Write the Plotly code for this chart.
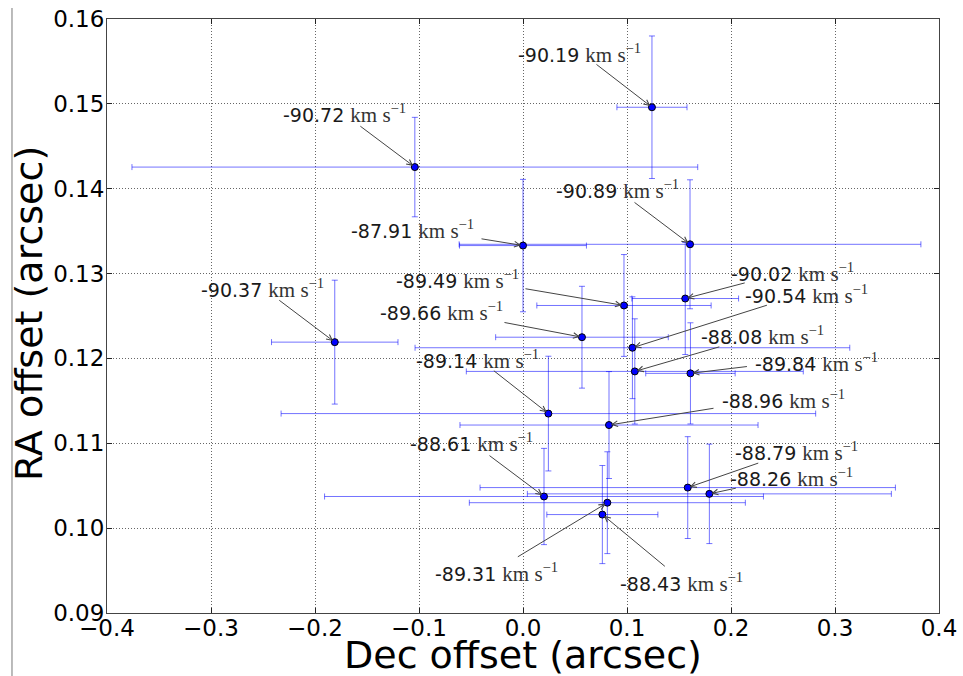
import plotly.graph_objects as go

# ---- data ----
velocities = ["-90.19", "-90.72", "-87.91", "-90.89", "-90.02", "-90.54", "-89.49", "-89.66", "-88.08",
              "-89.84", "-89.14", "-88.96", "-88.61", "-88.79", "-88.26", "-89.31", "-88.43", "-90.37"]
dec = [0.124, -0.104, 0.000, 0.1606, 0.156, 0.1052, 0.0971, 0.0567, 0.1075,
       0.161, 0.0244, 0.0827, 0.0202, 0.1584, 0.1792, 0.0811, 0.0763, -0.181]
ra = [0.1496, 0.14255, 0.1333, 0.13345, 0.12706, 0.12126, 0.12624, 0.1225, 0.11847,
      0.11824, 0.1135, 0.11215, 0.10373, 0.10478, 0.10404, 0.1030, 0.1016, 0.12192]
dec_err = [0.0337, 0.272, 0.061, 0.222, 0.0513, 0.209, 0.0838, 0.083, 0.162,
           0.043, 0.257, 0.1433, 0.211, 0.1997, 0.175, 0.1327, 0.0534, 0.0608]
ra_err = [0.0084, 0.00586, 0.0078, 0.0076, 0.0066, 0.0060, 0.0060, 0.0060, 0.0062,
          0.00596, 0.00676, 0.0063, 0.00567, 0.0060, 0.00586, 0.0060, 0.00578, 0.0073]

x_ticks = [-0.4, -0.3, -0.2, -0.1, 0.0, 0.1, 0.2, 0.3, 0.4]
x_ticktext = ["\u22120.4", "\u22120.3", "\u22120.2", "\u22120.1", "0.0", "0.1", "0.2", "0.3", "0.4"]
y_ticks = [0.09, 0.10, 0.11, 0.12, 0.13, 0.14, 0.15, 0.16]

# label placement (pixel offsets from point): text left edge / centre, arrow tail
text_off = [(-136, -54), (-134, -54), (-174, -16), (-136, -55), (44, -26), (111, -53), (-230, -26),
            (-204, -26), (64, -36), (63, -11), (-134, -54), (111, -26), (-136, -54), (45, -36),
            (19, -16), (-174, 70), (16, 68), (-136, -54)]
tail_off = [(-57, -44), (-56, -42), (-43, -7), (-57, -43), (61, -16), (136, -43), (-100, -17),
            (-79, -15), (86, -25), (58, -7), (-56, -44), (106, -17), (-56, -42), (72, -25),
            (28, -6), (-91, 55), (64, 53), (-57, -43)]

fig = go.Figure()
fig.add_trace(go.Scatter(
    x=dec, y=ra, mode="markers",
    marker=dict(color="#0000ff", size=7, line=dict(color="black", width=1)),
    error_x=dict(type="data", array=dec_err, color="rgba(0,0,255,0.55)", thickness=1, width=3),
    error_y=dict(type="data", array=ra_err, color="rgba(0,0,255,0.55)", thickness=1, width=3),
    showlegend=False, hoverinfo="skip",
))

annotations = []
for v, x, y, (tx, ty), (ax, ay) in zip(velocities, dec, ra, text_off, tail_off):
    annotations.append(dict(
        x=x, y=y, xref="x", yref="y", showarrow=False,
        text=(v + " <span style='font-family:Liberation Serif;font-size:21px;color:#333'>km s<sup>\u22121</sup></span>"),
        xanchor="left", yanchor="middle", xshift=tx, yshift=-ty,
        font=dict(family="DejaVu Sans", size=19, color="#1a1a1a"),
    ))
    annotations.append(dict(
        x=x, y=y, xref="x", yref="y", text="", showarrow=True,
        ax=ax, ay=ay, axref="pixel", ayref="pixel",
        arrowhead=5, arrowsize=1.1, arrowwidth=1, arrowcolor="#444", standoff=2,
    ))

annotations.append(dict(
    text="Dec offset (arcsec)", xref="paper", yref="paper", x=0.5, y=0,
    xanchor="center", yanchor="middle", yshift=-42, showarrow=False,
    font=dict(family="DejaVu Sans", size=38, color="black"),
))
annotations.append(dict(
    text="RA offset (arcsec)", xref="paper", yref="paper", x=0, y=0.5,
    xanchor="center", yanchor="middle", xshift=-78, yshift=2, textangle=-90, showarrow=False,
    font=dict(family="DejaVu Sans", size=38, color="black"),
))

axis_common = dict(
    showgrid=True, gridcolor="#666", griddash="1px,2px", gridwidth=1,
    showline=True, linecolor="#444", linewidth=1, mirror="ticks",
    ticks="inside", ticklen=5, tickcolor="#222", zeroline=False, automargin=False,
    tickfont=dict(family="DejaVu Sans", size=23, color="black"),
)

fig.update_layout(
    width=963, height=676,
    margin=dict(l=107, r=24, t=19, b=63),
    paper_bgcolor="white", plot_bgcolor="white",
    xaxis=dict(range=[-0.4, 0.4], tickvals=x_ticks, ticktext=x_ticktext, ticklabelstandoff=-6, **axis_common),
    yaxis=dict(range=[0.09, 0.16], tickvals=y_ticks, tickformat=".2f", ticklabelstandoff=-3, **axis_common),
    annotations=annotations,
    shapes=[dict(type="line", xref="paper", yref="paper", x0=-0.1142, x1=-0.1142, y0=1.0185, y1=-0.11,
                 line=dict(color="#777", width=1))],
)

fig.write_html("out.html")
